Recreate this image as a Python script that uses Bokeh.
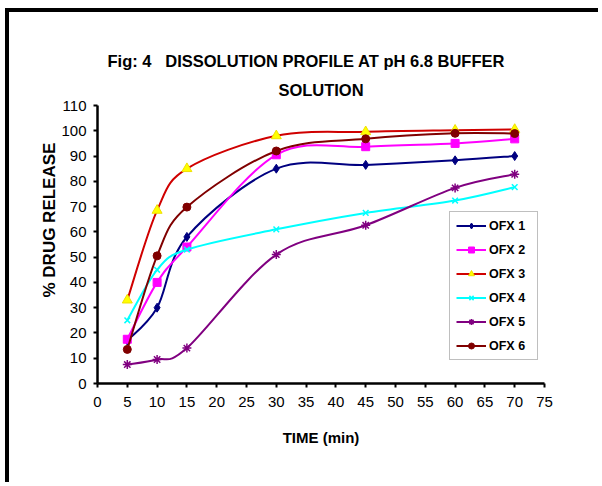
from bokeh.plotting import figure
from bokeh.models import Range1d, FixedTicker, Legend, LegendItem, Title
from bokeh.embed import file_html
from bokeh.resources import INLINE

# ---- data ----
time_min = [5, 10, 15, 30, 45, 60, 70]
series_names = ["OFX 1", "OFX 2", "OFX 3", "OFX 4", "OFX 5", "OFX 6"]
ofx1 = [17, 30, 58, 85, 86.5, 88.3, 90]
ofx2 = [17.5, 40, 54, 90.5, 93.7, 95, 96.8]
ofx3 = [33, 68.5, 85, 98, 99.6, 100.2, 100.5]
ofx4 = [25, 45, 53, 61, 67.5, 72.4, 77.7]
ofx5 = [7.5, 9.5, 14, 51, 62.6, 77.4, 82.8]
ofx6 = [13.5, 50.5, 69.8, 92, 96.8, 99, 98.9]
x_ticks = list(range(0, 80, 5))
y_ticks = list(range(0, 120, 10))

title_line1 = "Fig: 4\u00a0\u00a0 DISSOLUTION PROFILE AT pH 6.8 BUFFER"
title_line2 = "SOLUTION"
x_title = "TIME (min)"
y_title = "% DRUG RELEASE"

styles = [
    dict(line="#000080", marker="diamond", fill="#000080", mline="#000080", size=9),
    dict(line="#FF00FF", marker="square", fill="#FF00FF", mline="#FF00FF", size=8),
    dict(line="#D00000", marker="triangle", fill="#FFFF00", mline="#F0E000", size=10),
    dict(line="#00FFFF", marker="x", fill="#00FFFF", mline="#00FFFF", size=8),
    dict(line="#800080", marker="asterisk", fill="#800080", mline="#800080", size=9),
    dict(line="#800000", marker="circle", fill="#800000", mline="#800000", size=8),
]
all_series = [ofx1, ofx2, ofx3, ofx4, ofx5, ofx6]

FONT = "Liberation Sans"

p = figure(width=593, height=474, output_backend="svg", toolbar_location=None,
           x_range=Range1d(0, 75), y_range=Range1d(0, 110),
           min_border_left=88, min_border_right=58,
           min_border_top=93, min_border_bottom=103,
           margin=(8, 0, 0, 5),
           styles={"border-top": "4px solid black",
                   "border-left": "4px solid black"})
p.outline_line_color = None
p.grid.visible = False
p.background_fill_color = "white"
p.border_fill_color = "white"

for ax, ticks in ((p.xaxis, x_ticks), (p.yaxis, y_ticks)):
    ax.ticker = FixedTicker(ticks=ticks)
    ax.axis_line_width = 2.5
    ax.axis_line_color = "black"
    ax.major_tick_line_width = 2
    ax.major_tick_line_color = "black"
    ax.major_tick_out = 4
    ax.major_tick_in = 0
    ax.minor_tick_out = 0
    ax.minor_tick_in = 0
    ax.major_label_text_font = FONT
    ax.major_label_text_font_size = "15px"
    ax.major_label_text_color = "black"
p.xaxis.major_label_standoff = 9
p.yaxis.major_label_standoff = 7

p.xaxis.axis_label = x_title
p.xaxis.axis_label_text_font = FONT
p.xaxis.axis_label_text_font_size = "15px"
p.xaxis.axis_label_text_font_style = "bold"
p.xaxis.axis_label_text_color = "black"
p.xaxis.axis_label_standoff = 19

# titles
p.title.text = title_line1
p.title.align = "left"
p.title.offset = 10
p.title.text_font = FONT
p.title.text_font_size = "16.5px"
p.title.text_font_style = "bold"
p.title.text_color = "black"
p.title.standoff = 3

t2 = Title(text=title_line2, align="center", text_font=FONT, text_font_size="16.5px",
           text_font_style="bold", text_color="black", standoff=14)
p.add_layout(t2, "above")

ty = Title(text=y_title, align="left", offset=86, text_font=FONT,
           text_font_size="17px", text_font_style="bold", text_color="black",
           standoff=0)
p.add_layout(ty, "left")


def bezier_parts(xs, ys):
    n = len(xs)
    px = [xs[0]] + list(xs) + [xs[-1]]
    py = [ys[0]] + list(ys) + [ys[-1]]
    out = dict(x0=[], y0=[], x1=[], y1=[], cx0=[], cy0=[], cx1=[], cy1=[])
    for i in range(n - 1):
        j = i + 1
        out["x0"].append(px[j]); out["y0"].append(py[j])
        out["x1"].append(px[j + 1]); out["y1"].append(py[j + 1])
        out["cx0"].append(px[j] + (px[j + 1] - px[j - 1]) / 6)
        out["cy0"].append(py[j] + (py[j + 1] - py[j - 1]) / 6)
        out["cx1"].append(px[j + 1] - (px[j + 2] - px[j]) / 6)
        out["cy1"].append(py[j + 1] - (py[j + 2] - py[j]) / 6)
    return out


items = []
for name, ys, st in zip(series_names, all_series, styles):
    b = bezier_parts(time_min, ys)
    br = p.bezier(line_color=st["line"], line_width=2, **b)
    sr = p.scatter(time_min, ys, marker=st["marker"], size=st["size"],
                   fill_color=st["fill"], line_color=st["mline"],
                   line_width=1.5 if st["marker"] in ("x", "asterisk") else 1)
    items.append(LegendItem(label=name, renderers=[br, sr]))

legend = Legend(items=items, location=(352, 23), margin=0, padding=6,
                spacing=9, glyph_width=30, glyph_height=15, label_height=15,
                label_width=42, label_standoff=3,
                label_text_font=FONT, label_text_font_size="12.5px",
                label_text_font_style="bold", label_text_color="black",
                border_line_color="#808080", border_line_width=1,
                background_fill_color="white", background_fill_alpha=1)
p.add_layout(legend)

open("out.html", "w").write(file_html(p, INLINE))
